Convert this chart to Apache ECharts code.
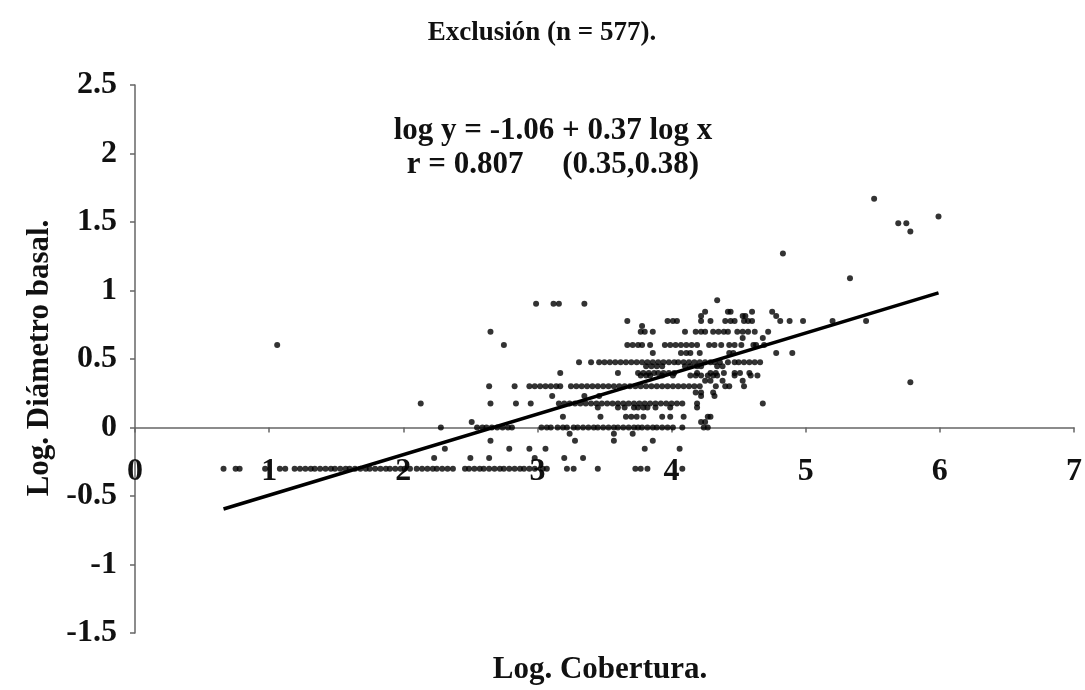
<!DOCTYPE html>
<html>
<head>
<meta charset="utf-8">
<title>Exclusión (n = 577)</title>
<script src="https://cdn.jsdelivr.net/npm/echarts@6.0.0/dist/echarts.min.js"></script>
<style>
  html, body { margin: 0; padding: 0; background: #fff; }
  #chart { width: 1085px; height: 690px; }
</style>
</head>
<body>
<div id="chart"></div>
<script>
// Scatter values, grouped by the (log) diameter level they sit on
const xAtM030 = [0.66, 0.75, 0.78, 0.97, 1.08, 1.12, 1.19, 1.23, 1.27, 1.31, 1.34, 1.38, 1.42, 1.46, 1.49, 1.53, 1.57, 1.60, 1.64, 1.68, 1.72, 1.75, 1.79, 1.83, 1.87, 1.90, 1.94, 1.98, 2.01, 2.05, 2.10, 2.14, 2.18, 2.22, 2.25, 2.29, 2.33, 2.37, 2.46, 2.49, 2.53, 2.57, 2.60, 2.64, 2.68, 2.72, 2.75, 2.79, 2.83, 2.87, 2.90, 2.94, 2.98, 3.04, 3.07, 3.22, 3.27, 3.45, 3.73, 3.77, 3.82, 4.08];
const xAtM022 = [2.23, 2.50, 2.64, 2.98, 3.20, 3.34];
const xAtM015 = [2.31, 2.79, 2.94, 3.06, 3.80, 4.06];
const xAtM010 = [2.65, 3.28, 3.57, 3.86];
const xAtM005 = [3.24, 3.57, 3.71];
const xAt000 = [2.28, 2.55, 2.59, 2.62, 2.66, 2.70, 2.74, 2.78, 2.81, 3.03, 3.07, 3.10, 3.15, 3.19, 3.22, 3.27, 3.30, 3.34, 3.38, 3.42, 3.45, 3.49, 3.53, 3.57, 3.60, 3.64, 3.68, 3.72, 3.75, 3.78, 3.82, 3.86, 3.89, 3.93, 3.97, 4.01, 4.08, 4.24, 4.27];
const xAt004 = [2.51, 4.22, 4.25];
const xAt008 = [3.19, 3.47, 3.66, 3.70, 3.74, 3.79, 3.93, 3.99, 4.09, 4.27, 4.29];
const xAt015 = [3.45, 3.60, 3.65, 3.72, 3.75, 3.79, 3.82, 3.88, 3.99, 4.19];
const xAt018 = [2.13, 2.65, 2.84, 2.95, 3.16, 3.20, 3.24, 3.28, 3.32, 3.36, 3.40, 3.44, 3.48, 3.52, 3.56, 3.60, 3.64, 3.68, 3.72, 3.76, 3.80, 3.84, 3.88, 3.92, 3.96, 4.00, 4.04, 4.08, 4.19, 4.68];
const xAt023 = [3.11, 3.35, 3.46, 4.22, 4.32];
const xAt026 = [4.18, 4.22, 4.31];
const xAt030 = [2.64, 2.83, 2.94, 2.98, 3.02, 3.06, 3.10, 3.14, 3.17, 3.25, 3.29, 3.33, 3.37, 3.41, 3.45, 3.49, 3.53, 3.57, 3.61, 3.65, 3.69, 3.73, 3.77, 3.81, 3.85, 3.89, 3.93, 3.97, 4.01, 4.05, 4.09, 4.13, 4.17, 4.21, 4.33, 4.40, 4.43, 4.54];
const xAt034 = [4.25, 4.29, 4.38, 4.53];
const xAt038 = [3.77, 3.81, 3.84, 3.93, 4.01, 4.14, 4.18, 4.22, 4.27, 4.31, 4.34, 4.47, 4.59, 4.64];
const xAt040 = [3.17, 3.60, 3.75, 3.79, 3.83, 3.87, 3.90, 3.94, 3.98, 4.02, 4.19, 4.29, 4.33, 4.39, 4.47, 4.51, 4.58];
const xAt045 = [3.81, 3.85, 3.89, 3.93, 4.10, 4.14, 4.19, 4.22, 4.34, 4.38];
const xAt048 = [3.31, 3.40, 3.46, 3.50, 3.54, 3.58, 3.62, 3.66, 3.70, 3.74, 3.78, 3.82, 3.86, 3.90, 3.94, 3.98, 4.02, 4.05, 4.09, 4.13, 4.17, 4.21, 4.25, 4.29, 4.32, 4.36, 4.42, 4.47, 4.50, 4.54, 4.58, 4.62, 4.66];
const xAt054 = [3.86, 4.07, 4.11, 4.14, 4.21, 4.43, 4.46, 4.78, 4.90];
const xAt060 = [1.06, 2.75, 3.67, 3.71, 3.75, 3.78, 3.84, 3.95, 3.99, 4.03, 4.07, 4.11, 4.15, 4.19, 4.28, 4.32, 4.37, 4.43, 4.47, 4.52, 4.61, 4.63, 4.69];
const xAt065 = [4.53, 4.68];
const xAt070 = [2.65, 3.77, 3.80, 3.86, 4.10, 4.18, 4.22, 4.25, 4.31, 4.35, 4.39, 4.42, 4.49, 4.53, 4.57, 4.62, 4.72];
const xAt074 = [3.78];
const xAt078 = [3.67, 3.97, 4.01, 4.04, 4.22, 4.29, 4.40, 4.44, 4.47, 4.54, 4.57, 4.60, 4.81, 4.88, 4.98, 5.20, 5.45];
const xAt081 = [4.22, 4.53, 4.55, 4.78];
const xAt085 = [4.25, 4.42, 4.44, 4.60, 4.75];
const xAt090 = [2.99, 3.12, 3.16, 3.35];
const xAt093 = [4.34];

const levels = [
  [-0.301, xAtM030], [-0.222, xAtM022], [-0.155, xAtM015], [-0.097, xAtM010],
  [-0.046, xAtM005], [0, xAt000], [0.041, xAt004], [0.079, xAt008],
  [0.146, xAt015], [0.176, xAt018], [0.230, xAt023], [0.255, xAt026],
  [0.301, xAt030], [0.342, xAt034], [0.380, xAt038], [0.398, xAt040],
  [0.447, xAt045], [0.477, xAt048], [0.544, xAt054], [0.602, xAt060],
  [0.653, xAt065], [0.699, xAt070], [0.740, xAt074], [0.778, xAt078],
  [0.813, xAt081], [0.845, xAt085], [0.903, xAt090], [0.929, xAt093]
];

// isolated points in the upper right
const outlierX = [4.83, 5.33, 5.51, 5.69, 5.75, 5.78, 5.99, 5.78];
const outlierY = [1.27, 1.09, 1.67, 1.49, 1.49, 1.43, 1.54, 0.33];

// fitted line, ends as drawn
const fitX = [0.66, 5.99];
const fitY = [-0.595, 0.983];

const xTicks = [0, 7, 1];
const yTicks = [-1.5, 2.5, 0.5];

const FONT = '"Liberation Serif", "Times New Roman", serif';

const points = [];
levels.forEach(([y, xs]) => xs.forEach(x => points.push([x, y])));
outlierX.forEach((x, i) => points.push([x, outlierY[i]]));

// x axis sits on y = 0: shift it up from the grid bottom
const gridTop = 85, gridBottom = 57, plotH = 690 - gridTop - gridBottom;
const zeroOffset = -plotH * (0 - yTicks[0]) / (yTicks[1] - yTicks[0]);

const chart = echarts.init(document.getElementById('chart'));
chart.setOption({
  animation: false,
  grid: { left: 135, right: 9, top: gridTop, bottom: gridBottom },
  xAxis: {
    type: 'value',
    min: xTicks[0], max: xTicks[1], interval: xTicks[2],
    offset: zeroOffset,
    axisLine: { onZero: false, lineStyle: { color: '#666', width: 1.5 } },
    axisTick: { show: true, length: 5, lineStyle: { color: '#666', width: 1.5 } },
    splitLine: { show: false },
    axisLabel: { margin: 28, color: '#111', fontFamily: FONT, fontWeight: 'bold', fontSize: 32 }
  },
  yAxis: {
    type: 'value',
    min: yTicks[0], max: yTicks[1], interval: yTicks[2],
    axisLine: { show: true, onZero: false, lineStyle: { color: '#666', width: 1.5 } },
    axisTick: { show: true, length: 5, lineStyle: { color: '#666', width: 1.5 } },
    splitLine: { show: false },
    axisLabel: { margin: 18, color: '#111', fontFamily: FONT, fontWeight: 'bold', fontSize: 32 }
  },
  graphic: [
    { type: 'text', x: 542, y: 33, style: { text: 'Exclusión (n = 577).', font: 'bold 27px ' + FONT, fill: '#111', align: 'center', verticalAlign: 'middle' } },
    { type: 'text', x: 553, y: 131, style: { text: 'log y = -1.06 + 0.37 log x', font: 'bold 31px ' + FONT, fill: '#111', align: 'center', verticalAlign: 'middle' } },
    { type: 'text', x: 553, y: 165, style: { text: 'r = 0.807     (0.35,0.38)', font: 'bold 31px ' + FONT, fill: '#111', align: 'center', verticalAlign: 'middle' } },
    { type: 'text', x: 600, y: 670, style: { text: 'Log. Cobertura.', font: 'bold 31px ' + FONT, fill: '#111', align: 'center', verticalAlign: 'middle' } },
    { type: 'text', x: 40, y: 358, rotation: Math.PI / 2, style: { text: 'Log. Diámetro basal.', font: 'bold 31px ' + FONT, fill: '#111', align: 'center', verticalAlign: 'middle' } }
  ],
  series: [
    {
      type: 'scatter',
      data: points,
      symbolSize: 6,
      itemStyle: { color: '#000' },
      silent: true
    },
    {
      type: 'line',
      data: fitX.map((x, i) => [x, fitY[i]]),
      showSymbol: false,
      lineStyle: { color: '#000', width: 3.5 },
      silent: true
    }
  ]
});
</script>
</body>
</html>
